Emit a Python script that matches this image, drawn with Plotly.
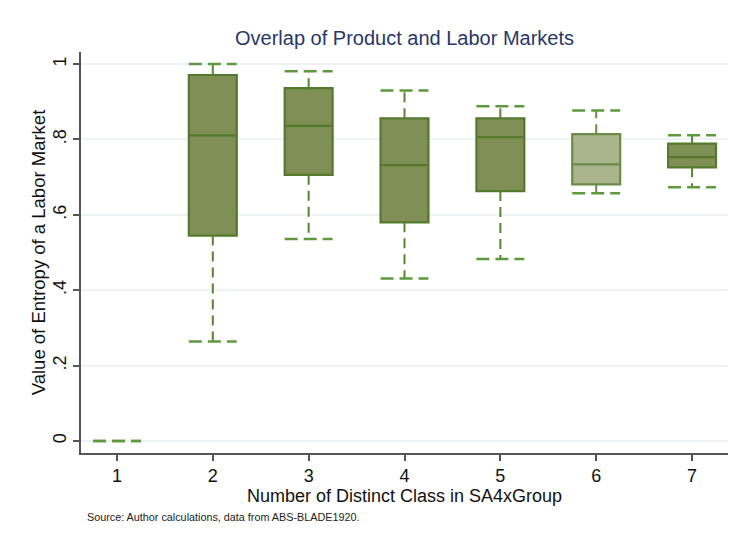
import plotly.graph_objects as go

# Summary statistics per number of distinct classes
categories = [1, 2, 3, 4, 5, 6, 7]
lower_adj = [0.0, 0.264, 0.536, 0.431, 0.483, 0.657, 0.673]
q1 = [0.0, 0.545, 0.706, 0.580, 0.663, 0.681, 0.726]
median = [0.0, 0.811, 0.836, 0.732, 0.806, 0.734, 0.753]
q3 = [0.0, 0.971, 0.936, 0.856, 0.856, 0.814, 0.789]
upper_adj = [0.0, 1.0, 0.981, 0.930, 0.888, 0.877, 0.811]

y_ticks = [0, 0.2, 0.4, 0.6, 0.8, 1.0]
y_tick_text = ["0", ".2", ".4", ".6", ".8", "1"]

BOX_LINE = "#537a2d"
BOX_FILL = "#7f8f55"
LIGHT_FILL = "#aab48d"
LIGHT_LINE = "#6c8b49"
WHISKER = "#5a8236"
CAP = "#5e9a3c"
half_w = 0.25

fig = go.Figure()

for i, c in enumerate(categories):
    light = (c == 6)
    line_col = LIGHT_LINE if light else BOX_LINE
    # dashed whiskers
    for a, b in ((q3[i], upper_adj[i]), (q1[i], lower_adj[i])):
        if b != a:
            fig.add_trace(go.Scatter(
                x=[c, c], y=[a, b], mode="lines",
                line=dict(color=line_col if light else WHISKER, width=2, dash="10px,6px"),
                hoverinfo="skip", showlegend=False))
    # dashed caps
    for v in (upper_adj[i], lower_adj[i]):
        fig.add_trace(go.Scatter(
            x=[c - half_w, c + half_w], y=[v, v], mode="lines",
            line=dict(color=CAP, width=2.5, dash="13px,6px"),
            hoverinfo="skip", showlegend=False))
    # box
    if q3[i] > q1[i]:
        fig.add_trace(go.Box(
            x=[c], q1=[q1[i]], median=[median[i]], q3=[q3[i]],
            lowerfence=[q1[i]], upperfence=[q3[i]],
            width=0.5, whiskerwidth=0,
            fillcolor=LIGHT_FILL if light else BOX_FILL,
            line=dict(color=line_col, width=2.2),
            boxpoints=False, showlegend=False, name=str(c)))

fig.update_layout(
    width=734, height=543,
    margin=dict(l=81, r=6, t=52, b=90),
    paper_bgcolor="white", plot_bgcolor="white",
    font=dict(family="Arial, Liberation Sans, sans-serif", color="#111111"),
    title=dict(text="Overlap of Product and Labor Markets",
               x=(81 + (734 - 6 - 81) / 2) / 734, xanchor="center",
               y=1 - 38 / 543, yanchor="middle",
               font=dict(size=20, color="#2a3766")),
    xaxis=dict(range=[0.625, 7.375], tickvals=categories,
               ticks="outside", ticklen=6, tickwidth=1.5, tickcolor="#555555",
               showline=True, linecolor="#555555", linewidth=1.5,
               showgrid=False, zeroline=False,
               tickfont=dict(size=18, color="#111111"),
               title=dict(text="Number of Distinct Class in SA4xGroup",
                          font=dict(size=18), standoff=2)),
    yaxis=dict(range=[-0.032, 1.032], tickvals=y_ticks, ticktext=y_tick_text,
               tickangle=-90,
               ticks="outside", ticklen=6, tickwidth=1.5, tickcolor="#555555",
               showline=True, linecolor="#555555", linewidth=1.5,
               showgrid=True, gridcolor="#edf2f4", gridwidth=1.5, zeroline=False,
               tickfont=dict(size=18, color="#111111"),
               title=dict(text="Value of Entropy of a Labor Market",
                          font=dict(size=18.5), standoff=0)),
    annotations=[dict(text="Source: Author calculations, data from ABS-BLADE1920.",
                      xref="paper", yref="paper", x=4 / 647, y=0,
                      xanchor="left", yanchor="middle", showarrow=False,
                      yshift=-(517 - 453),
                      font=dict(size=10.8, color="#222222"))],
)

fig.write_html("out.html")
